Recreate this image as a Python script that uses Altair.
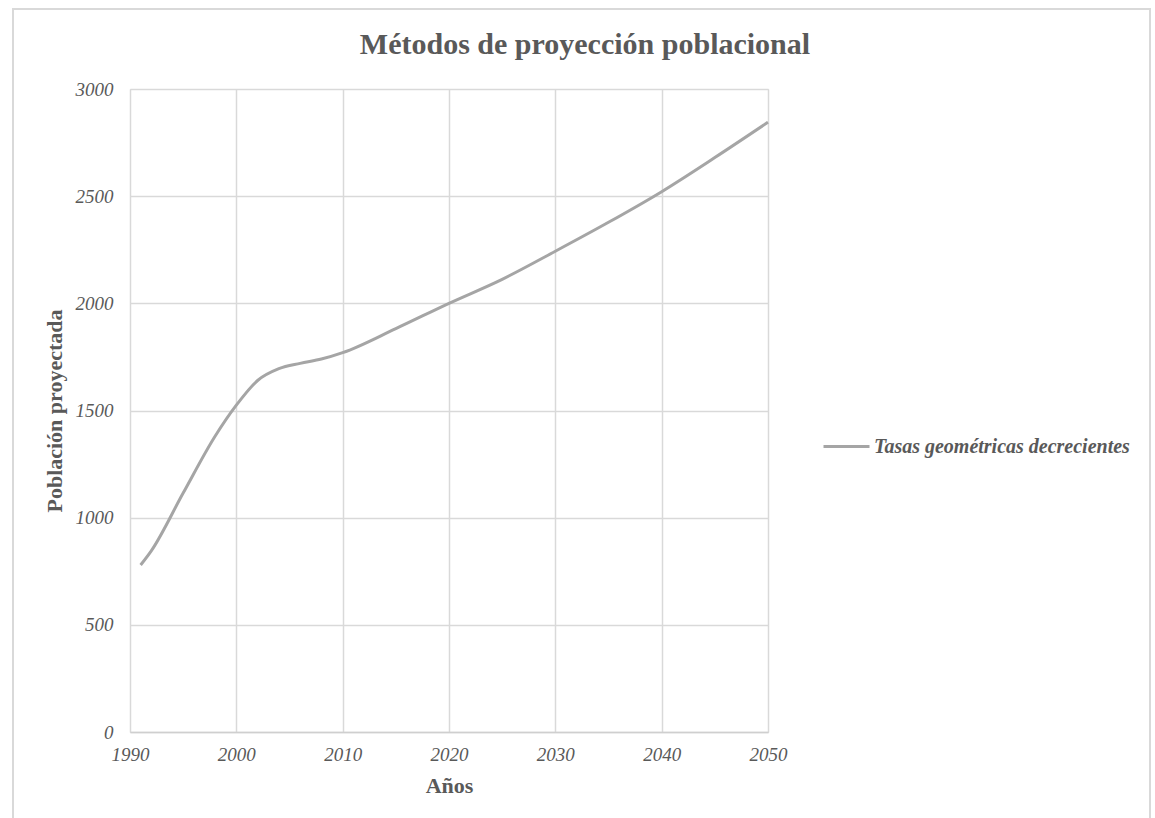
import altair as alt
import pandas as pd

# Projected population, geometric decreasing-rate method
years = [1991, 1992, 1995, 1998, 2000, 2002, 2004, 2006, 2008, 2010,
         2015, 2020, 2025, 2030, 2035, 2040, 2045, 2050]
population = [779, 845, 1115, 1380, 1525, 1640, 1695, 1720, 1740, 1770,
              1882, 2000, 2112, 2243, 2378, 2521, 2680, 2845]
series_name = "Tasas geométricas decrecientes"

df = pd.DataFrame({"anio": years, "poblacion": population, "serie": series_name})

FONT = "Liberation Serif"
TEXT = "#595959"
GRID = "#d9d9d9"
LINE = "#a5a5a5"

line = alt.Chart(df).mark_line(strokeWidth=3, interpolate="monotone").encode(
    x=alt.X(
        "anio:Q",
        scale=alt.Scale(domain=[1990, 2050], nice=False, zero=False),
        axis=alt.Axis(
            title="Años", values=[1990, 2000, 2010, 2020, 2030, 2040, 2050],
            format="d", grid=True, gridColor=GRID, gridWidth=1.5,
            ticks=False, domainColor="#cfcfcf", domainWidth=1.5,
            labelFlush=False, labelOverlap=False,
            labelFont=FONT, labelFontSize=19, labelFontStyle="italic",
            labelColor=TEXT, labelPadding=13,
            titleFont=FONT, titleFontSize=22, titleFontWeight="bold",
            titleColor=TEXT, titlePadding=11,
        ),
    ),
    y=alt.Y(
        "poblacion:Q",
        scale=alt.Scale(domain=[0, 3000], nice=False),
        axis=alt.Axis(
            title="Población proyectada", values=list(range(0, 3001, 500)),
            format="d", grid=True, gridColor=GRID, gridWidth=1.5, ticks=False,
            domain=False, labelFlush=False, labelOverlap=False,
            labelFont=FONT, labelFontSize=19, labelFontStyle="italic",
            labelColor=TEXT, labelPadding=17,
            titleFont=FONT, titleFontSize=22, titleFontWeight="bold",
            titleColor=TEXT, titlePadding=9,
        ),
    ),
    color=alt.Color(
        "serie:N",
        scale=alt.Scale(domain=[series_name], range=[LINE]),
        legend=alt.Legend(
            title=None, orient="none", legendX=692, legendY=333,
            symbolType="stroke", symbolSize=2116, symbolStrokeWidth=3,
            labelFont=FONT, labelFontSize=20, labelFontStyle="italic",
            labelFontWeight="bold", labelColor=TEXT, labelLimit=400,
            labelOffset=3,
        ),
    ),
)

# Light outer border around the chart area
frame = alt.Chart(alt.Data(values=[{}])).mark_rect(
    fill=None, stroke="#d9d9d9", strokeWidth=2
).encode(
    x=alt.value(-117), x2=alt.value(1020), y=alt.value(-80), y2=alt.value(740)
)

chart = alt.layer(frame, line).properties(
    width=638,
    height=643,
    title=alt.Title(
        "Métodos de proyección poblacional",
        font=FONT, fontSize=30, fontWeight="bold", color=TEXT,
        anchor="middle", dx=136, offset=-52,
    ),
    autosize=alt.AutoSizeParams(type="none"),
    padding={"left": 130, "top": 89, "right": 387, "bottom": 86},
).configure_view(stroke=None).configure(background="white")

chart.save("out.html", embed_options={"renderer": "svg", "actions": False})
